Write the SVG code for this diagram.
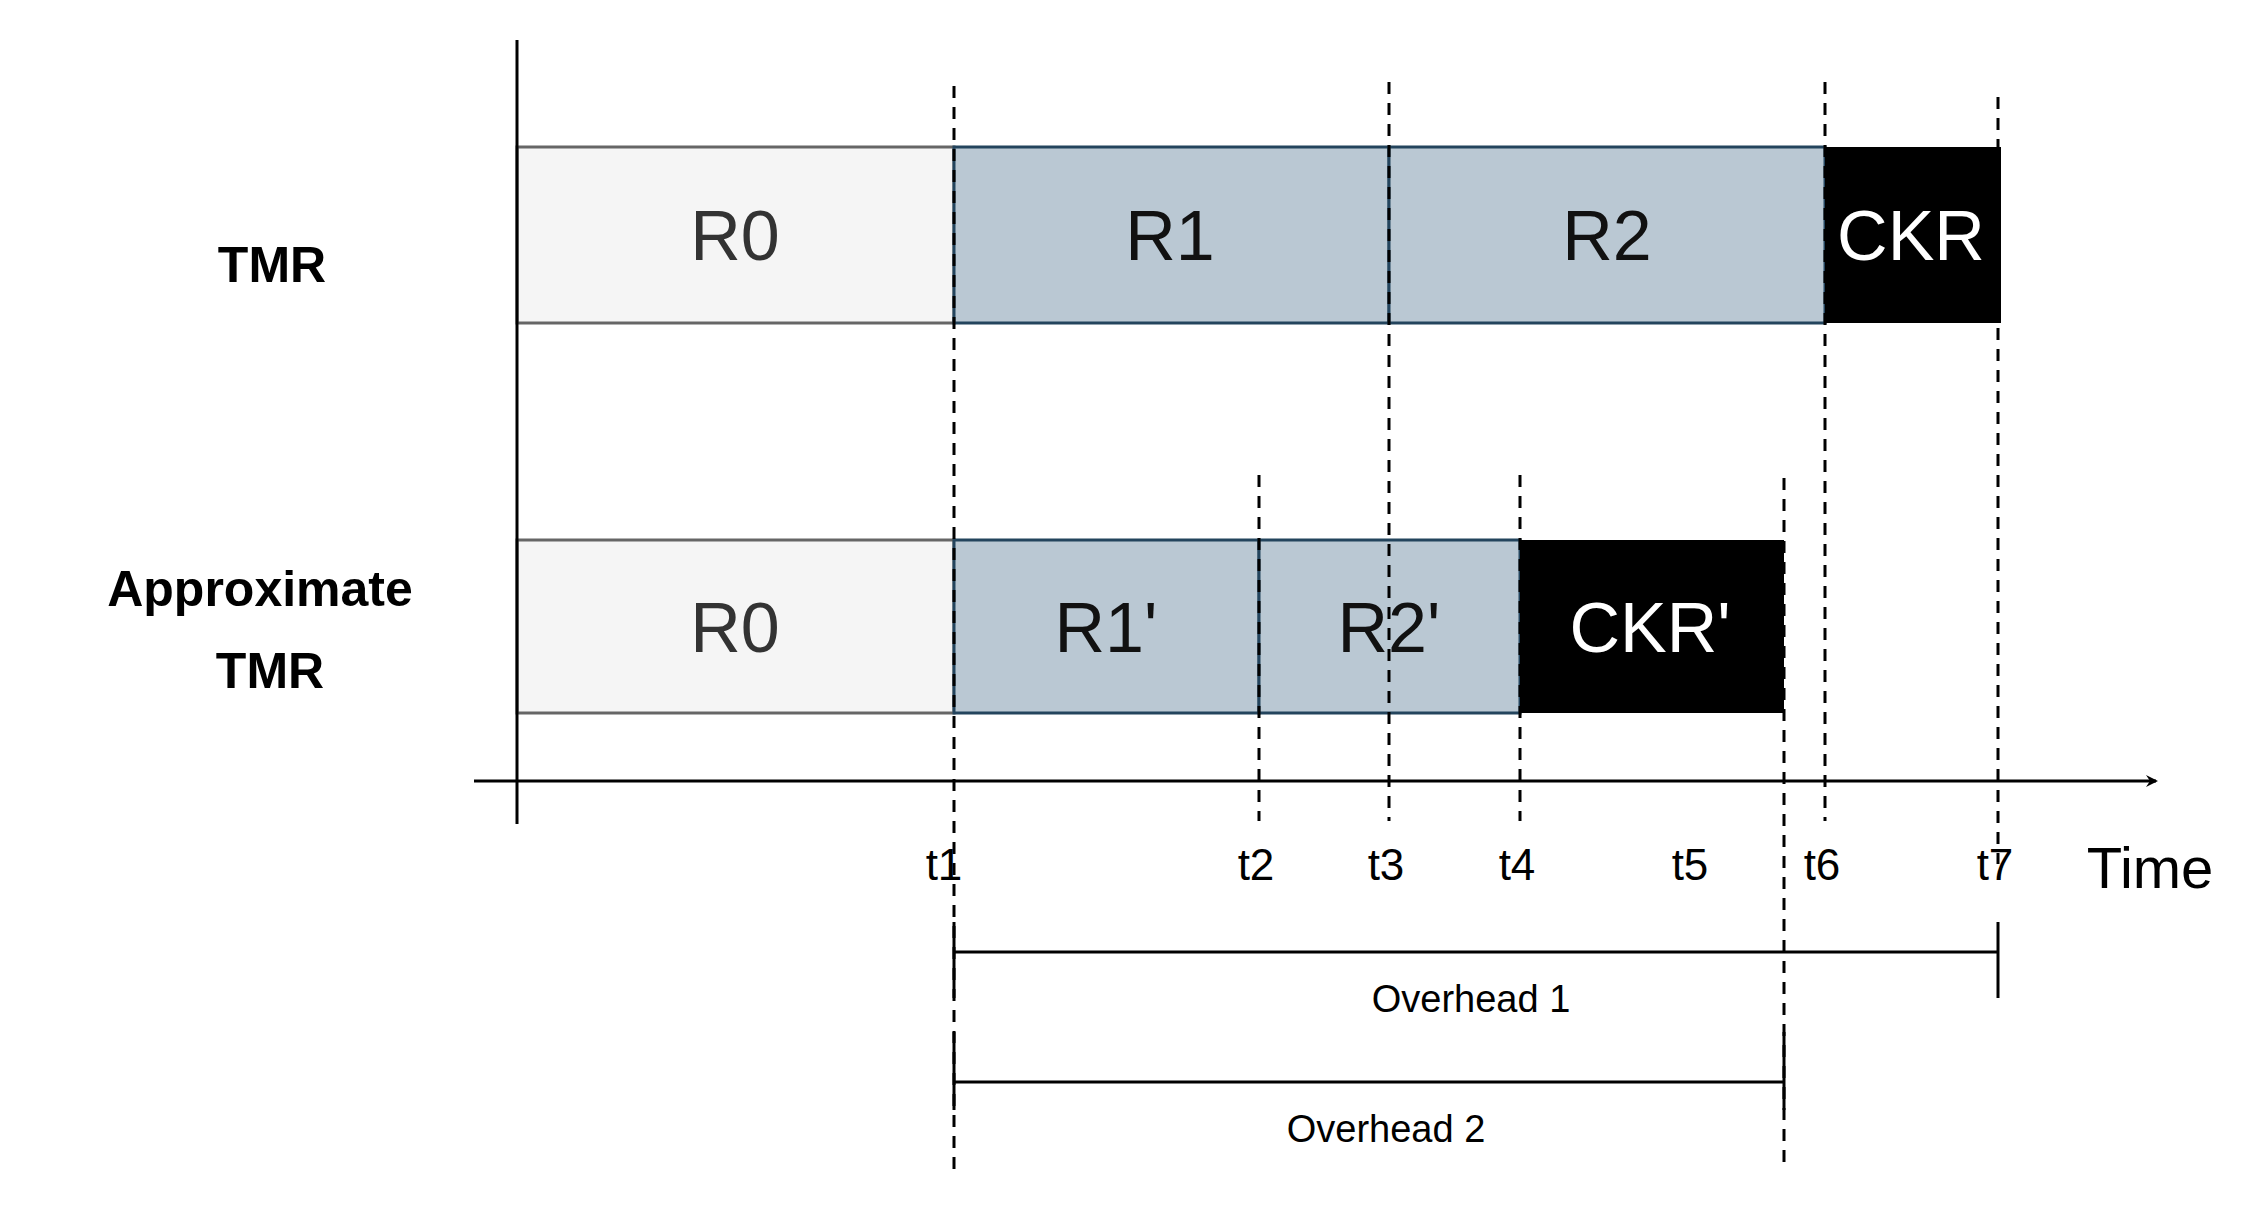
<svg xmlns="http://www.w3.org/2000/svg" width="2259" height="1215" viewBox="0 0 2259 1215">
<defs>
<style>
text{font-family:"Liberation Sans",Arial,sans-serif;text-anchor:middle}
.blk{font-size:70px;fill:#333}
.wt{font-size:70px;fill:#fff}
.lab{font-size:50px;font-weight:bold;fill:#000}
.t{font-size:44px;fill:#000}
.dash{stroke:#000;stroke-width:3;stroke-dasharray:12 9;fill:none}
.ln{stroke:#000;stroke-width:3;fill:none}
</style>
<marker id="ah" markerWidth="12" markerHeight="12" refX="10" refY="6" orient="auto" markerUnits="userSpaceOnUse" viewBox="0 0 12 12"><path d="M0,0 L12,6 L0,12 L4,6 Z" fill="#000"/></marker>
</defs>
<rect width="2259" height="1215" fill="#fff"/>
<g id="labels">
<text class="lab" x="272" y="282">TMR</text>
<text class="lab" x="260" y="606">Approximate</text>
<text class="lab" x="270" y="688">TMR</text>
</g>
<g id="tmr-row">
<g id="r0a"><rect x="517" y="147" width="437" height="176" fill="#f5f5f5" stroke="#666" stroke-width="3"/><text class="blk" x="735" y="260">R0</text></g>
<g id="r1a"><rect x="954" y="147" width="435" height="176" fill="#bac8d3" stroke="#23445d" stroke-width="3"/><text class="blk" x="1170" y="260" fill="#000" style="fill:#111">R1</text></g>
<g id="r2a"><rect x="1389" y="147" width="436" height="176" fill="#bac8d3" stroke="#23445d" stroke-width="3"/><text class="blk" x="1607" y="260" style="fill:#111">R2</text></g>
<g id="ckra"><rect x="1825" y="147" width="176" height="176" fill="#000"/><text class="wt" x="1911" y="260">CKR</text></g>
</g>
<g id="approx-row">
<g id="r0b"><rect x="517" y="540" width="437" height="173" fill="#f5f5f5" stroke="#666" stroke-width="3"/><text class="blk" x="735" y="652">R0</text></g>
<g id="r1b"><rect x="954" y="540" width="305" height="173" fill="#bac8d3" stroke="#23445d" stroke-width="3"/><text class="blk" x="1106" y="652" style="fill:#111">R1'</text></g>
<g id="r2b"><rect x="1259" y="540" width="261" height="173" fill="#bac8d3" stroke="#23445d" stroke-width="3"/><text class="blk" x="1389" y="652" style="fill:#111">R2'</text></g>
<g id="ckrb"><rect x="1520" y="540" width="264" height="173" fill="#000"/><text class="wt" x="1650" y="652">CKR'</text></g>
</g>
<g id="connectors">
<line class="ln" x1="517" y1="40" x2="517" y2="824"/>
<line class="ln" x1="474" y1="781" x2="2156" y2="781" marker-end="url(#ah)"/>
<line class="dash" x1="954" y1="86" x2="954" y2="1170"/>
<line class="dash" x1="1389" y1="82" x2="1389" y2="821"/>
<line class="dash" x1="1825" y1="82" x2="1825" y2="821"/>
<line class="dash" x1="1998" y1="97" x2="1998" y2="864"/>
<line class="dash" x1="1259" y1="475" x2="1259" y2="821"/>
<line class="dash" x1="1520" y1="475" x2="1520" y2="821"/>
<line class="dash" x1="1784" y1="478" x2="1784" y2="1170"/>
<line class="ln" x1="954" y1="952" x2="1998" y2="952"/>
<line class="ln" x1="1998" y1="922" x2="1998" y2="998"/>
<line class="ln" x1="954" y1="922" x2="954" y2="998"/>
<line class="ln" x1="954" y1="1082" x2="1784" y2="1082"/>
<line class="ln" x1="954" y1="1032" x2="954" y2="1110"/>
<line class="ln" x1="1784" y1="1032" x2="1784" y2="1110"/>
</g>
<g id="time-labels">
<text class="t" x="944" y="880">t1</text>
<text class="t" x="1256" y="880">t2</text>
<text class="t" x="1386" y="880">t3</text>
<text class="t" x="1517" y="880">t4</text>
<text class="t" x="1690" y="880">t5</text>
<text class="t" x="1822" y="880">t6</text>
<text class="t" x="1995" y="880">t7</text>
<text x="2150" y="888" style="font-size:58px">Time</text>
<text x="1471" y="1012" style="font-size:38px">Overhead 1</text>
<text x="1386" y="1142" style="font-size:38px">Overhead 2</text>
</g>
</svg>
